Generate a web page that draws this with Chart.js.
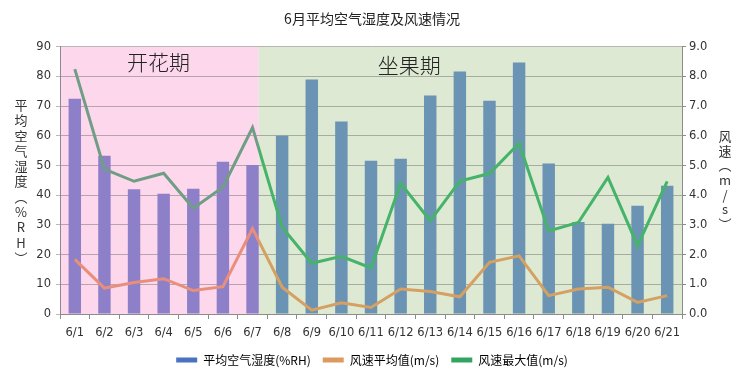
<!DOCTYPE html>
<html>
<head>
<meta charset="utf-8">
<script src="https://cdn.jsdelivr.net/npm/chart.js@4/dist/chart.umd.min.js"></script>
<style>
body { margin: 0; background: #fff; }
#wrap { width: 744px; height: 376px; }
</style>
</head>
<body>
<div id="wrap"><canvas id="chart"></canvas></div>
<script>
const labels = ['6/1','6/2','6/3','6/4','6/5','6/6','6/7','6/8','6/9','6/10','6/11',
    '6/12','6/13','6/14','6/15','6/16','6/17','6/18','6/19','6/20','6/21'];

// 平均空气湿度 (%RH)
const humidity = [72.5,53.3,42,40.5,42.2,51.3,50.2,60,79,64.8,51.6,
    52.3,73.6,81.7,71.8,84.7,50.7,31,30.4,36.5,43.2];

// 风速 (m/s)
const windAvg = [1.84,0.87,1.06,1.19,0.79,0.92,2.88,0.9,0.13,0.38,0.22,
    0.84,0.76,0.58,1.74,1.96,0.62,0.84,0.9,0.39,0.62];
const windMax = [8.25,4.88,4.47,4.74,3.56,4.27,6.28,2.92,1.71,1.94,1.55,
    4.4,3.14,4.48,4.73,5.75,2.8,3.08,4.6,2.3,4.47];

const stageNames = ['开花期', '坐果期'];
const stageEnd = 6;   // 开花期 runs to 6/7

const leftTitle = '平均空气湿度︵%RH︶';
const rightTitle = '风速︵m/s︶';

const BAR_PCT = 0.42;
const tickFont = { family: 'DejaVu Sans', size: 11.5 };

function boundaryX(chart) {
    const x = chart.scales.x;
    const cat = x.width / labels.length;
    return x.getPixelForValue(stageEnd) + cat * BAR_PCT / 2;
}

function splitColor(c1, c2) {
    return ctx => {
        const chart = ctx.chart;
        const area = chart.chartArea;
        if (!area || !chart.scales.x) return c2;
        const f = Math.min(1, Math.max(0, (boundaryX(chart) - area.left) / (area.right - area.left)));
        const g = chart.ctx.createLinearGradient(area.left, 0, area.right, 0);
        g.addColorStop(0, c1);
        g.addColorStop(f, c1);
        g.addColorStop(f, c2);
        g.addColorStop(1, c2);
        return g;
    };
}

const stagesPlugin = {
    id: 'stages',
    beforeDraw(chart) {
        const { ctx, chartArea: a } = chart;
        const b = boundaryX(chart);
        ctx.save();
        ctx.fillStyle = '#fdd7ec';
        ctx.fillRect(a.left, a.top, b - a.left, a.bottom - a.top);
        ctx.fillStyle = '#dde9d2';
        ctx.fillRect(b, a.top, a.right - b, a.bottom - a.top);
        ctx.restore();
    },
    afterDraw(chart) {
        const { ctx, chartArea: a } = chart;
        const b = boundaryX(chart);
        ctx.save();
        ctx.fillStyle = '#222';
        ctx.textBaseline = 'middle';
        ctx.textAlign = 'left';
        ctx.font = '300 21px "Noto Sans CJK SC"';
        ctx.fillText(stageNames[0], a.left + 67, a.top + 15);
        ctx.fillText(stageNames[1], b + 119, a.top + 18);

        ctx.font = '13px "Noto Sans CJK SC"';
        ctx.textAlign = 'center';
        ctx.fillStyle = '#333';
        [...leftTitle].forEach((c, i) => ctx.fillText(c, 21, 105 + i * 15.3));
        [...rightTitle].forEach((c, i) => ctx.fillText(c, 725, 136 + i * 14.7));
        ctx.restore();
    }
};

new Chart(document.getElementById('chart'), {
    data: {
        labels,
        datasets: [
            {
                type: 'line',
                label: '风速平均值(m/s)',
                data: windAvg,
                yAxisID: 'y1',
                borderColor: splitColor('#e88f7c', '#d5a062'),
                borderWidth: 3,
                pointRadius: 0,
                tension: 0,
                order: 1
            },
            {
                type: 'line',
                label: '风速最大值(m/s)',
                data: windMax,
                yAxisID: 'y1',
                borderColor: splitColor('#6f9d86', '#45b36a'),
                borderWidth: 3,
                pointRadius: 0,
                tension: 0,
                order: 0
            },
            {
                type: 'bar',
                label: '平均空气湿度(%RH)',
                data: humidity,
                yAxisID: 'y',
                backgroundColor: humidity.map((v, i) => i <= stageEnd ? '#8e80c8' : '#6a93b4'),
                categoryPercentage: 1,
                barPercentage: BAR_PCT,
                order: 2
            }
        ]
    },
    options: {
        responsive: true,
        maintainAspectRatio: false,
        animation: false,
        layout: { padding: 0 },
        plugins: {
            title: {
                display: true,
                text: '6月平均空气湿度及风速情况',
                color: '#222',
                font: { family: '"Noto Sans CJK SC"', size: 14, weight: 'normal' },
                padding: { top: 10, bottom: 20 }
            },
            legend: {
                position: 'bottom',
                labels: {
                    color: '#333',
                    font: { family: '"Noto Sans CJK SC"', size: 12 },
                    boxWidth: 21,
                    boxHeight: 5,
                    padding: 12,
                    generateLabels() {
                        return [
                            { text: '平均空气湿度(%RH)', fillStyle: '#4a72c0', strokeStyle: '#4a72c0', lineWidth: 0, datasetIndex: 2 },
                            { text: '风速平均值(m/s)', fillStyle: '#dc9a5f', strokeStyle: '#dc9a5f', lineWidth: 0, datasetIndex: 0 },
                            { text: '风速最大值(m/s)', fillStyle: '#34a463', strokeStyle: '#34a463', lineWidth: 0, datasetIndex: 1 }
                        ];
                    }
                }
            },
            tooltip: { enabled: false }
        },
        scales: {
            x: {
                grid: { display: true, drawOnChartArea: false, offset: true, color: '#8c8c8c', tickLength: 5 },
                border: { color: '#8c8c8c' },
                ticks: { color: '#333', font: tickFont, padding: 7, maxRotation: 0, autoSkip: false },
                afterFit(s) { s.height = 28; }
            },
            y: {
                position: 'left',
                min: 0,
                max: 90,
                ticks: { stepSize: 10, color: '#333', font: tickFont, padding: 5 },
                grid: { color: 'rgba(100,100,100,0.45)', tickLength: 4 },
                border: { color: '#8c8c8c' },
                afterFit(s) { s.width = 60; }
            },
            y1: {
                position: 'right',
                min: 0,
                max: 9,
                ticks: { stepSize: 1, color: '#333', font: tickFont, padding: 3,
                    callback: v => v.toFixed(1) },
                grid: { drawOnChartArea: false, color: '#8c8c8c', tickLength: 4 },
                border: { color: '#8c8c8c' },
                afterFit(s) { s.width = 62; }
            }
        }
    },
    plugins: [stagesPlugin]
});
</script>
</body>
</html>
